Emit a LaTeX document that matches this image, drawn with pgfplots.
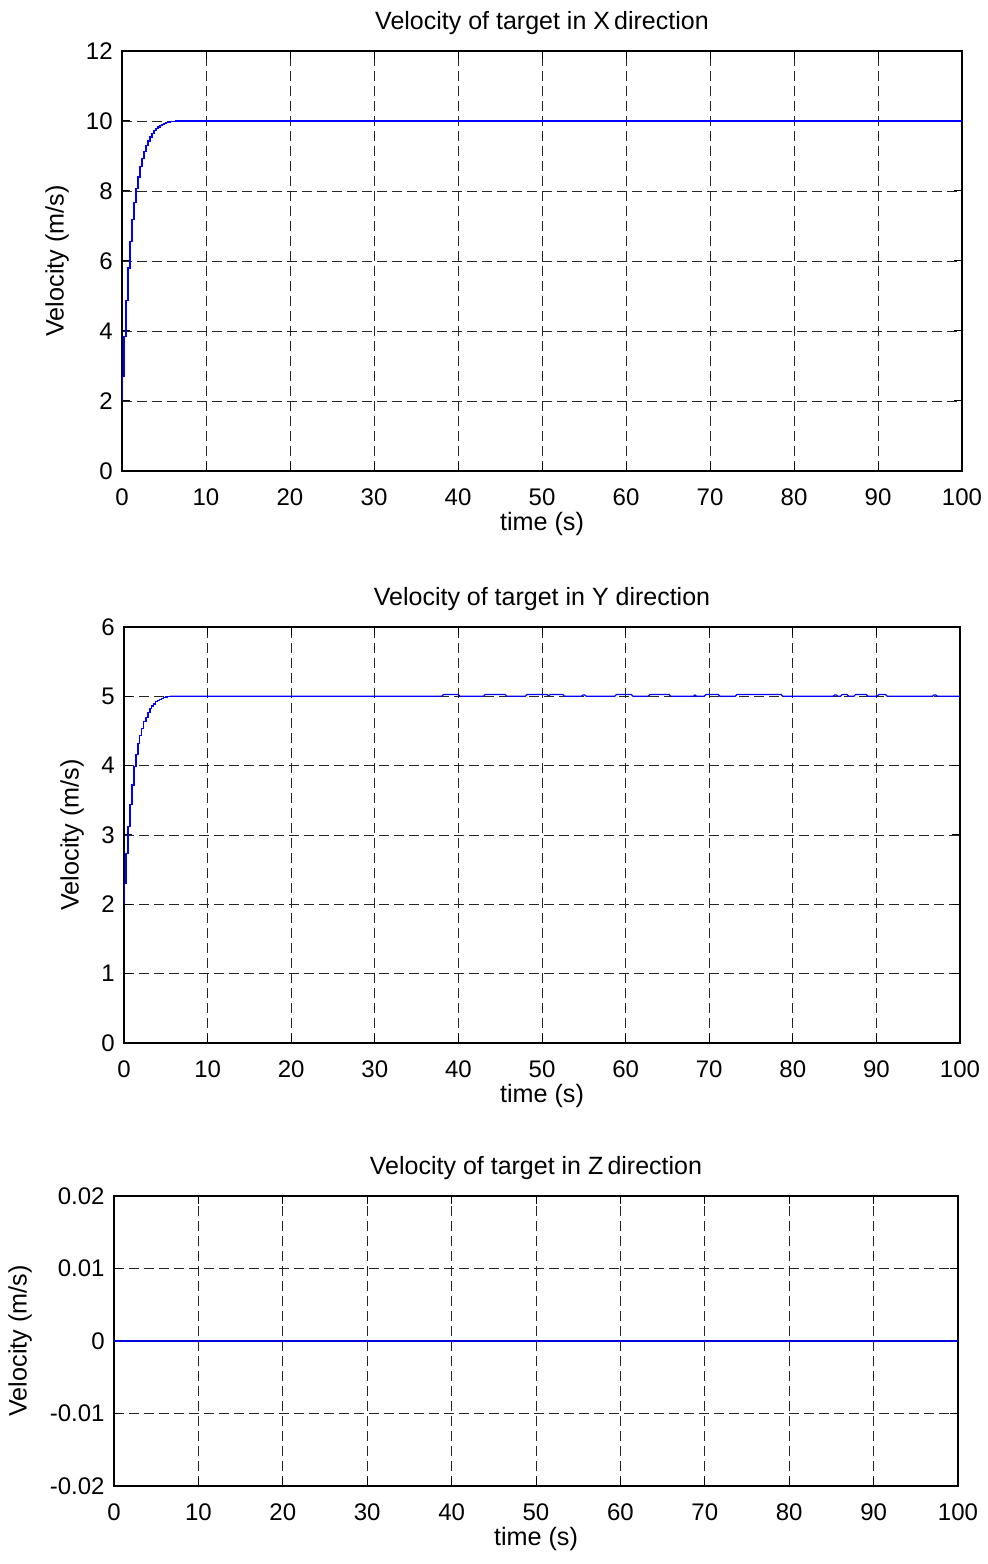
\documentclass[border=0pt]{standalone}
\usepackage{fontspec}
\setmainfont{Liberation Sans}
\usepackage{pgfplots}
\pgfplotsset{compat=1.18}
\pgfplotstableread{
t v
0 2.00
0 2.70
0.24 3.85
0.48 4.88
0.71 5.80
0.95 6.56
1.19 7.18
1.43 7.68
1.67 8.06
1.90 8.40
2.14 8.70
2.38 8.93
2.62 9.13
2.86 9.31
3.10 9.43
3.33 9.54
3.57 9.64
3.81 9.72
4.05 9.78
4.29 9.83
4.52 9.87
4.76 9.90
5.00 9.93
5.24 9.95
5.48 9.965
5.71 9.975
5.95 9.985
6.19 9.99
6.43 10.00
100 10.00
}\vxdata
\pgfplotstableread{
t v
0 2.00
0 2.30
0.24 2.73
0.48 3.12
0.71 3.44
0.95 3.72
1.19 3.99
1.43 4.16
1.67 4.32
1.90 4.44
2.14 4.54
2.38 4.64
2.62 4.70
2.86 4.77
3.10 4.82
3.33 4.86
3.57 4.89
3.81 4.92
4.05 4.94
4.29 4.96
4.52 4.97
4.76 4.98
5.00 4.99
5.24 4.995
5.48 5.00
}\vyrise
\pgfplotstableread{
t v
5.48 5.00
38.0 5.00
38.2 5.025
40.0 5.025
40.2 5.00
43.0 5.00
43.2 5.025
45.6 5.025
45.8 5.00
48.0 5.00
48.2 5.025
50.6 5.025
50.8 5.01
51.0 5.025
52.5 5.025
52.7 5.00
54.7 5.00
54.9 5.02
55.1 5.02
55.3 5.00
58.7 5.00
58.9 5.025
60.7 5.025
60.9 5.00
62.7 5.00
62.9 5.025
65.2 5.025
65.4 5.00
68.1 5.00
68.3 5.02
68.5 5.00
69.4 5.00
69.6 5.025
71.1 5.025
71.3 5.00
73.1 5.00
73.3 5.025
78.6 5.025
78.8 5.00
84.8 5.00
85.0 5.02
85.2 5.02
85.4 5.00
85.7 5.00
85.9 5.025
86.5 5.025
86.7 5.00
87.3 5.00
87.5 5.025
88.8 5.025
89.0 5.00
90.1 5.00
90.3 5.025
91.1 5.025
91.3 5.00
96.7 5.00
96.9 5.02
97.1 5.02
97.3 5.00
100 5.00
}\vyflat
\pgfplotstableread{
t v
0 0
100 0
}\vzdata
\pgfplotsset{
  matstyle/.style={
    scale only axis,
    anchor=south west,
    font=\fontsize{12}{14}\selectfont,
    /pgf/number format/assume math mode=true,
    xmin=0, xmax=100,
    xtick={0,10,...,100},
    tick align=inside,
    major tick length=4pt,
    tick style={black, line width=0.5pt},
    axis line style={black, line width=0.7pt},
    grid=major,
    major grid style={black!85, line width=0.45pt, dash pattern=on 5pt off 2.5pt},
    scaled y ticks=false,
    scaled x ticks=false,
    xlabel={time (s)},
    ylabel={Velocity (m/s)},
    title style={at={(axis description cs:0.5,1)}, anchor=center, yshift=8pt, font=\fontsize{12.5}{15}\selectfont},
    xlabel style={at={(axis description cs:0.5,0)}, anchor=center, yshift=-26.5pt, font=\fontsize{12.6}{15}\selectfont},
    xticklabel style={anchor=center, yshift=-13pt},
    yticklabel style={inner sep=0pt, xshift=-4.5pt},
  },
}
\begin{document}
\begin{tikzpicture}
\useasboundingbox (0,0) rectangle (494pt,782pt);
\begin{axis}[matstyle,
  at={(61pt,546.5pt)}, width=420pt, height=210pt,
  ymin=0, ymax=12, ytick={0,2,...,12},
  title={Velocity of target in X\,direction},
  ylabel style={at={(axis description cs:0,0.5)}, anchor=center, yshift=32.5pt, font=\fontsize{12.6}{15}\selectfont},
]
\addplot[const plot, blue, line width=0.6pt] table[x=t,y=v] {\vxdata};
\end{axis}
\begin{axis}[matstyle,
  at={(62pt,260.5pt)}, width=418pt, height=208pt,
  ymin=0, ymax=6, ytick={0,1,...,6},
  title={Velocity of target in Y direction},
  ylabel style={at={(axis description cs:0,0.5)}, anchor=center, yshift=26pt, font=\fontsize{12.6}{15}\selectfont},
]
\addplot[const plot, blue, line width=0.6pt] table[x=t,y=v] {\vyrise};
\addplot[sharp plot, blue, line width=0.6pt] table[x=t,y=v] {\vyflat};
\end{axis}
\begin{axis}[matstyle,
  at={(57pt,39pt)}, width=422pt, height=145pt,
  ymin=-0.02, ymax=0.02, ytick={-0.02,-0.01,0,0.01,0.02},
  yticklabels={-0.02,-0.01,0,0.01,0.02},
  title={Velocity of target in Z\,direction},
  ylabel style={at={(axis description cs:0,0.5)}, anchor=center, yshift=47pt, font=\fontsize{12.6}{15}\selectfont},
]
\addplot[sharp plot, blue!85!black, line width=0.6pt] table[x=t,y=v] {\vzdata};
\end{axis}
\end{tikzpicture}
\end{document}
